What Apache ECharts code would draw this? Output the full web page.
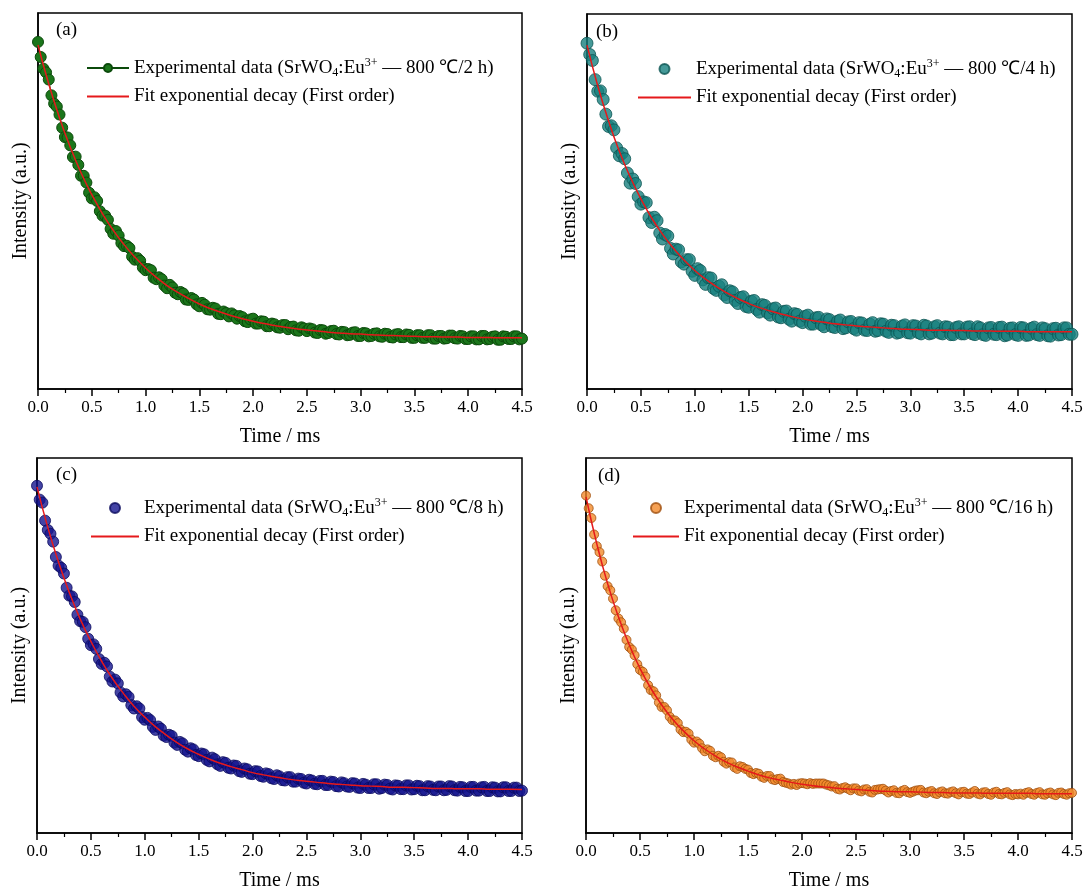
<!DOCTYPE html>
<html>
<head>
<meta charset="utf-8">
<script src="https://cdn.jsdelivr.net/npm/echarts@6/dist/echarts.min.js"></script>
<style>
html,body{margin:0;padding:0;background:#fff;}
#chart{width:1086px;height:894px;}
</style>
</head>
<body>
<div id="chart"></div>
<script>
// sampling times (ms)
const timeExp = [0,0.025,0.05,0.075,0.1,0.125,0.15,0.175,0.2,0.225,0.25,0.275,0.3,0.325,0.35,0.375,0.4,0.425,0.45,0.475,
0.5,0.525,0.55,0.575,0.6,0.625,0.65,0.675,0.7,0.725,0.75,0.775,0.8,0.825,0.85,0.875,0.9,0.925,0.95,0.975,
1.0,1.025,1.05,1.075,1.1,1.125,1.15,1.175,1.2,1.225,1.25,1.275,1.3,1.325,1.35,1.375,1.4,1.425,1.45,1.475,
1.5,1.525,1.55,1.575,1.6,1.625,1.65,1.675,1.7,1.725,1.75,1.775,1.8,1.825,1.85,1.875,1.9,1.925,1.95,1.975,
2.0,2.025,2.05,2.075,2.1,2.125,2.15,2.175,2.2,2.225,2.25,2.275,2.3,2.325,2.35,2.375,2.4,2.425,2.45,2.475,
2.5,2.525,2.55,2.575,2.6,2.625,2.65,2.675,2.7,2.725,2.75,2.775,2.8,2.825,2.85,2.875,2.9,2.925,2.95,2.975,
3.0,3.025,3.05,3.075,3.1,3.125,3.15,3.175,3.2,3.225,3.25,3.275,3.3,3.325,3.35,3.375,3.4,3.425,3.45,3.475,
3.5,3.525,3.55,3.575,3.6,3.625,3.65,3.675,3.7,3.725,3.75,3.775,3.8,3.825,3.85,3.875,3.9,3.925,3.95,3.975,
4.0,4.025,4.05,4.075,4.1,4.125,4.15,4.175,4.2,4.225,4.25,4.275,4.3,4.325,4.35,4.375,4.4,4.425,4.45,4.475,4.5];
const timeFit = [0,0.1,0.2,0.3,0.4,0.5,0.6,0.7,0.8,0.9,1.0,1.1,1.2,1.3,1.4,1.5,1.6,1.7,1.8,1.9,2.0,2.1,2.2,2.3,2.4,2.5,2.6,2.7,2.8,2.9,3.0,3.1,3.2,3.3,3.4,3.5,3.6,3.7,3.8,3.9,4.0,4.1,4.2,4.3,4.4,4.5];
const xTicks = ['0.0','0.5','1.0','1.5','2.0','2.5','3.0','3.5','4.0','4.5'];

// (a) 800 C / 2 h
const expA = [92.3,88.3,85.2,84.2,82.3,78.1,75.9,75.1,73.0,69.5,67.0,66.9,64.8,61.7,61.8,59.6,56.7,56.7,54.9,52.2,
50.7,51.0,50.0,47.3,46.1,46.1,45.0,42.6,41.3,42.0,40.8,38.8,38.0,38.1,37.5,35.2,34.4,34.8,34.1,32.3,
31.6,31.9,31.6,29.6,29.2,29.7,29.2,27.5,26.8,27.7,27.0,25.6,25.2,25.8,25.4,23.8,23.7,24.2,23.8,22.5,
22.0,22.9,22.4,21.2,21.1,21.6,21.4,20.0,19.9,20.6,20.2,19.3,20.1,19.6,18.7,19.4,19.1,18.0,17.8,18.5,
18.7,17.4,17.4,18.0,17.9,16.7,16.7,17.4,17.2,16.4,16.3,17.0,17.0,15.9,16.5,16.6,15.6,15.5,16.4,16.1,
15.4,16.1,15.9,15.0,14.9,15.7,15.6,14.7,14.9,15.4,15.5,14.6,14.5,15.2,15.1,14.3,14.4,15.0,15.1,14.1,
14.1,14.9,14.8,14.0,14.1,14.7,14.8,14.0,13.9,14.7,14.6,13.8,13.7,14.5,14.6,13.8,13.8,14.5,14.4,13.6,
13.6,14.3,14.3,13.6,13.6,14.3,14.3,13.4,13.4,14.1,14.1,13.4,13.5,14.2,14.2,13.5,13.4,14.1,14.0,13.3,
13.3,14.0,14.0,13.2,13.2,14.1,14.1,13.2,13.3,13.9,14.0,13.1,13.1,14.0,13.9,13.3,13.3,14.0,14.0,13.2,13.4];
const fitA = [91.5,81.1,72.1,64.3,57.5,51.7,46.6,42.2,38.4,35.1,32.2,29.7,27.5,25.7,24.1,22.6,21.4,20.4,19.5,18.7,18.0,17.4,16.9,16.4,16.0,15.7,15.4,15.1,14.9,14.7,14.6,14.4,14.3,14.2,14.1,14.0,13.9,13.9,13.8,13.8,13.7,13.7,13.7,13.6,13.6,13.6];
// (b) 800 C / 4 h
const expB = [92.2,89.2,87.6,82.5,79.4,79.5,77.2,73.3,70.0,70.2,69.1,64.3,62.2,62.8,61.4,57.6,54.9,56.0,54.8,51.3,
49.3,49.9,49.7,45.7,44.4,45.8,44.9,41.6,40.0,41.2,40.8,37.5,36.0,37.3,37.1,33.9,33.3,34.5,34.5,31.4,
30.3,32.1,31.6,29.1,27.9,29.7,29.6,26.8,26.3,27.4,27.8,25.1,24.4,26.2,25.9,23.6,22.8,24.4,24.6,22.0,
21.8,23.4,23.6,21.2,20.5,22.5,22.3,20.3,19.7,21.4,21.6,19.2,19.0,20.7,20.8,18.6,18.1,20.1,19.9,18.1,
17.7,19.4,19.7,17.3,17.3,19.0,19.1,17.1,16.6,18.7,18.5,16.6,16.4,18.1,18.4,16.1,16.3,17.9,18.0,16.1,
15.7,17.7,17.6,15.7,15.6,17.3,17.7,15.4,15.6,17.4,17.3,15.4,15.1,17.0,16.9,14.9,15.1,16.8,17.1,15.0,
14.9,16.9,16.8,15.0,14.7,17.0,16.8,14.7,14.9,16.6,16.9,14.9,14.7,16.6,16.5,14.5,14.5,16.4,16.6,14.7,
14.7,16.5,16.6,14.7,14.5,16.6,16.3,14.5,14.3,16.3,16.4,14.6,14.5,16.4,16.5,14.2,14.4,16.2,16.3,14.5,
14.3,16.4,16.3,14.3,14.4,16.2,16.5,14.5,14.3,16.3,16.1,14.2,14.1,16.1,16.2,14.4,14.5,16.3,16.3,14.6,14.6];
const fitB = [91.7,80.8,71.5,63.4,56.6,50.7,45.6,41.3,37.6,34.4,31.6,29.3,27.3,25.6,24.1,22.8,21.7,20.8,20.0,19.3,18.7,18.2,17.8,17.4,17.1,16.8,16.6,16.4,16.2,16.0,15.9,15.8,15.7,15.7,15.6,15.6,15.5,15.5,15.4,15.4,15.4,15.3,15.3,15.3,15.3,15.3];
// (c) 800 C / 8 h
const expC = [92.6,88.9,88.1,83.3,80.8,79.8,77.7,73.6,71.3,70.7,69.2,65.4,63.3,63.1,61.6,58.2,56.5,56.3,54.9,51.8,
50.1,50.3,49.1,46.4,45.1,45.4,44.4,41.7,40.4,40.9,39.9,37.5,36.4,37.0,36.3,34.1,33.2,33.8,33.2,30.9,
30.2,30.7,30.1,28.3,27.5,28.4,27.8,26.0,25.6,26.2,25.9,24.1,23.5,24.3,23.9,22.2,21.7,22.6,22.3,20.8,
20.5,21.2,21.0,19.5,19.1,20.1,19.7,18.3,17.9,18.9,18.7,17.4,17.2,18.0,17.9,16.5,16.3,17.2,17.0,15.8,
15.7,16.5,16.4,15.2,15.0,15.9,15.7,14.6,14.4,15.4,15.1,14.1,14.0,14.9,14.9,13.7,13.7,14.5,14.4,13.4,
13.2,14.2,14.0,13.1,13.0,13.9,13.9,12.8,12.8,13.7,13.6,12.5,12.4,13.5,13.3,12.4,12.3,13.3,13.2,12.1,
12.0,13.1,12.9,12.0,12.0,13.0,13.0,11.8,12.0,12.9,12.8,11.8,11.6,12.7,12.6,11.7,11.7,12.7,12.7,11.6,
11.7,12.6,12.5,11.4,11.4,12.5,12.4,11.5,11.4,12.4,12.4,11.4,11.5,12.5,12.4,11.4,11.3,12.3,12.2,11.2,
11.2,12.3,12.3,11.3,11.3,12.2,12.3,11.2,11.2,12.2,12.1,11.1,11.1,12.2,12.2,11.2,11.2,12.1,12.1,11.2,11.3];
const fitC = [92.3,81.5,72.2,64.1,57.1,51.1,45.8,41.2,37.3,33.8,30.9,28.3,26.1,24.1,22.4,21.0,19.7,18.6,17.7,16.9,16.1,15.5,15.0,14.5,14.1,13.8,13.5,13.2,13.0,12.8,12.6,12.5,12.4,12.2,12.2,12.1,12.0,11.9,11.9,11.8,11.8,11.8,11.7,11.7,11.7,11.6];
// (d) 800 C / 16 h
const expD = [90.0,86.6,84.0,79.6,76.5,74.9,72.4,68.6,65.8,64.7,62.5,59.4,57.2,56.2,54.5,51.5,49.6,48.9,47.4,45.0,
43.5,43.0,41.7,39.4,38.1,37.8,36.7,34.8,33.6,33.6,32.7,31.0,30.1,30.0,29.3,27.6,26.9,27.0,26.5,24.9,
24.1,24.4,23.8,22.6,21.8,22.3,21.9,20.6,20.2,20.6,20.2,19.0,18.5,18.9,18.8,17.5,17.1,17.8,17.6,17.1,
16.9,16.0,15.7,16.0,15.8,15.0,14.7,15.2,15.2,14.3,14.1,14.4,14.5,13.6,13.4,13.2,12.9,13.1,12.8,13.2,
13.3,13.2,13.0,13.3,13.1,13.2,13.2,13.2,13.2,12.9,12.7,12.4,12.5,11.8,11.6,12.0,12.2,11.8,11.4,11.9,
11.9,11.3,11.1,11.6,11.7,11.0,10.8,11.5,11.6,11.7,11.8,11.3,10.8,11.2,11.4,10.7,10.6,11.2,11.5,10.9,
10.7,11.0,11.3,11.4,11.5,10.8,10.6,11.0,11.2,10.6,10.4,10.9,11.1,10.6,10.5,10.9,11.1,10.6,10.3,10.9,
11.0,10.5,10.4,10.8,11.2,10.5,10.3,10.8,10.9,10.4,10.2,10.8,11.0,10.4,10.3,10.7,10.9,10.3,10.1,10.4,
10.3,10.5,10.2,10.7,10.9,10.4,10.2,10.7,10.9,10.3,10.2,10.6,10.8,10.3,10.1,10.7,10.8,10.4,10.2,10.6,10.7];
const fitD = [89.6,77.1,66.5,57.7,50.2,43.9,38.6,34.2,30.4,27.3,24.6,22.4,20.5,18.9,17.6,16.5,15.5,14.7,14.1,13.5,13.0,12.6,12.3,12.0,11.8,11.6,11.4,11.2,11.1,11.0,11.0,10.9,10.8,10.8,10.7,10.7,10.7,10.6,10.6,10.6,10.6,10.6,10.5,10.5,10.5,10.5];

const panelLabels = ['(a)','(b)','(c)','(d)'];
const expNames = [
  'Experimental data (SrWO4:Eu3+ — 800 ℃/2 h)',
  'Experimental data (SrWO4:Eu3+ — 800 ℃/4 h)',
  'Experimental data (SrWO4:Eu3+ — 800 ℃/8 h)',
  'Experimental data (SrWO4:Eu3+ — 800 ℃/16 h)'
];
const fitName = 'Fit exponential decay (First order)';
const xName = 'Time / ms';
const yName = 'Intensity (a.u.)';

const expData = [expA, expB, expC, expD];
const fitData = [fitA, fitB, fitC, fitD];

const FONT = '"Liberation Serif","Times New Roman",serif';
const fills = ['#1b761b', '#16807e', '#15158f', '#f28a2a'];
const edges = ['#0b4a0b', '#0b5553', '#0a0a5e', '#a0500f'];
const sizes = [11, 12, 11, 9];

const grids = [
  {left: 38, top: 13, width: 484, height: 376},
  {left: 587, top: 14, width: 485, height: 375},
  {left: 37, top: 458, width: 485, height: 375},
  {left: 586, top: 458, width: 486, height: 375}
];
const legendPos = [
  {left: 86, top: 57, itemWidth: 42},
  {left: 637, top: 58, itemWidth: 53},
  {left: 90, top: 497, itemWidth: 48},
  {left: 632, top: 497, itemWidth: 46}
];
const labelPos = [
  {left: 56, top: 21}, {left: 596, top: 23}, {left: 56, top: 466}, {left: 598, top: 467}
];

function pairs(xs, ys) { return ys.map((v, i) => [xs[i], v]); }

function richName(name) {
  if (name.indexOf('SrWO4') < 0) return '{n|' + name + '}';
  const tail = name.split('Eu3+')[1];
  return '{n|Experimental data (SrWO}{sub|4}{n|:Eu}{sup|3+}{n|' + tail + '}';
}

const rich = {
  n: {fontFamily: FONT, fontSize: 19, color: '#000', lineHeight: 22},
  sub: {fontFamily: FONT, fontSize: 12, color: '#000', lineHeight: 12, verticalAlign: 'bottom'},
  sup: {fontFamily: FONT, fontSize: 12, color: '#000', lineHeight: 12, verticalAlign: 'top'}
};

const option = {
  backgroundColor: '#fff',
  animation: false,
  title: panelLabels.map((t, i) => ({
    text: t, left: labelPos[i].left, top: labelPos[i].top, padding: 0,
    textStyle: {fontFamily: FONT, fontSize: 19, fontWeight: 'normal', color: '#000'}
  })),
  legend: expNames.map((n, i) => ({
    orient: 'vertical', left: legendPos[i].left, top: legendPos[i].top, padding: 0,
    itemWidth: legendPos[i].itemWidth, itemHeight: 10, itemGap: 8,
    selectedMode: false,
    data: [n, {name: fitName, itemStyle: {opacity: 0}}],
    formatter: richName,
    textStyle: {fontFamily: FONT, fontSize: 19, color: '#000', rich: rich}
  })),
  grid: grids.map(g => Object.assign({show: true, borderColor: '#000', borderWidth: 1.5, backgroundColor: 'transparent'}, g)),
  xAxis: grids.map((g, i) => ({
    type: 'value', gridIndex: i, min: 0, max: 4.5, interval: 0.5,
    name: xName, nameLocation: 'middle', nameGap: 38,
    nameTextStyle: {fontFamily: FONT, fontSize: 20, color: '#000'},
    axisLine: {show: true, lineStyle: {color: '#000', width: 1.5}},
    axisTick: {show: true, inside: false, length: 7, lineStyle: {color: '#000', width: 1.5}},
    minorTick: {show: true, splitNumber: 2, length: 4, lineStyle: {color: '#000', width: 1.2}},
    splitLine: {show: false},
    axisLabel: {fontFamily: FONT, fontSize: 17, color: '#000', margin: 10,
      formatter: v => xTicks[Math.round(v / 0.5)]}
  })),
  yAxis: grids.map((g, i) => ({
    type: 'value', gridIndex: i, min: 0, max: 100,
    name: yName, nameLocation: 'middle', nameGap: 7,
    nameTextStyle: {fontFamily: FONT, fontSize: 20, color: '#000'},
    axisLine: {show: true, lineStyle: {color: '#000', width: 1.5}},
    axisTick: {show: false}, axisLabel: {show: false}, splitLine: {show: false}
  })),
  series: []
};

expData.forEach((d, i) => {
  const base = {
    name: expNames[i], xAxisIndex: i, yAxisIndex: i,
    data: pairs(timeExp, d),
    symbol: 'circle', symbolSize: sizes[i],
    itemStyle: {color: fills[i], borderColor: edges[i], borderWidth: 1},
    z: 2
  };
  if (i === 0) {
    option.series.push(Object.assign(base, {
      type: 'line', showAllSymbol: true,
      lineStyle: {color: edges[i], width: 1}
    }));
  } else {
    option.series.push(Object.assign(base, {type: 'scatter'}));
  }
});
fitData.forEach((d, i) => {
  option.series.push({
    name: fitName, type: 'line', xAxisIndex: i, yAxisIndex: i,
    data: pairs(timeFit, d), smooth: true, symbol: 'none',
    lineStyle: {color: '#e5191b', width: 1.5},
    itemStyle: {color: '#e5191b'},
    z: 5
  });
});

const chart = echarts.init(document.getElementById('chart'), null, {renderer: 'canvas'});
chart.setOption(option);
</script>
</body>
</html>
